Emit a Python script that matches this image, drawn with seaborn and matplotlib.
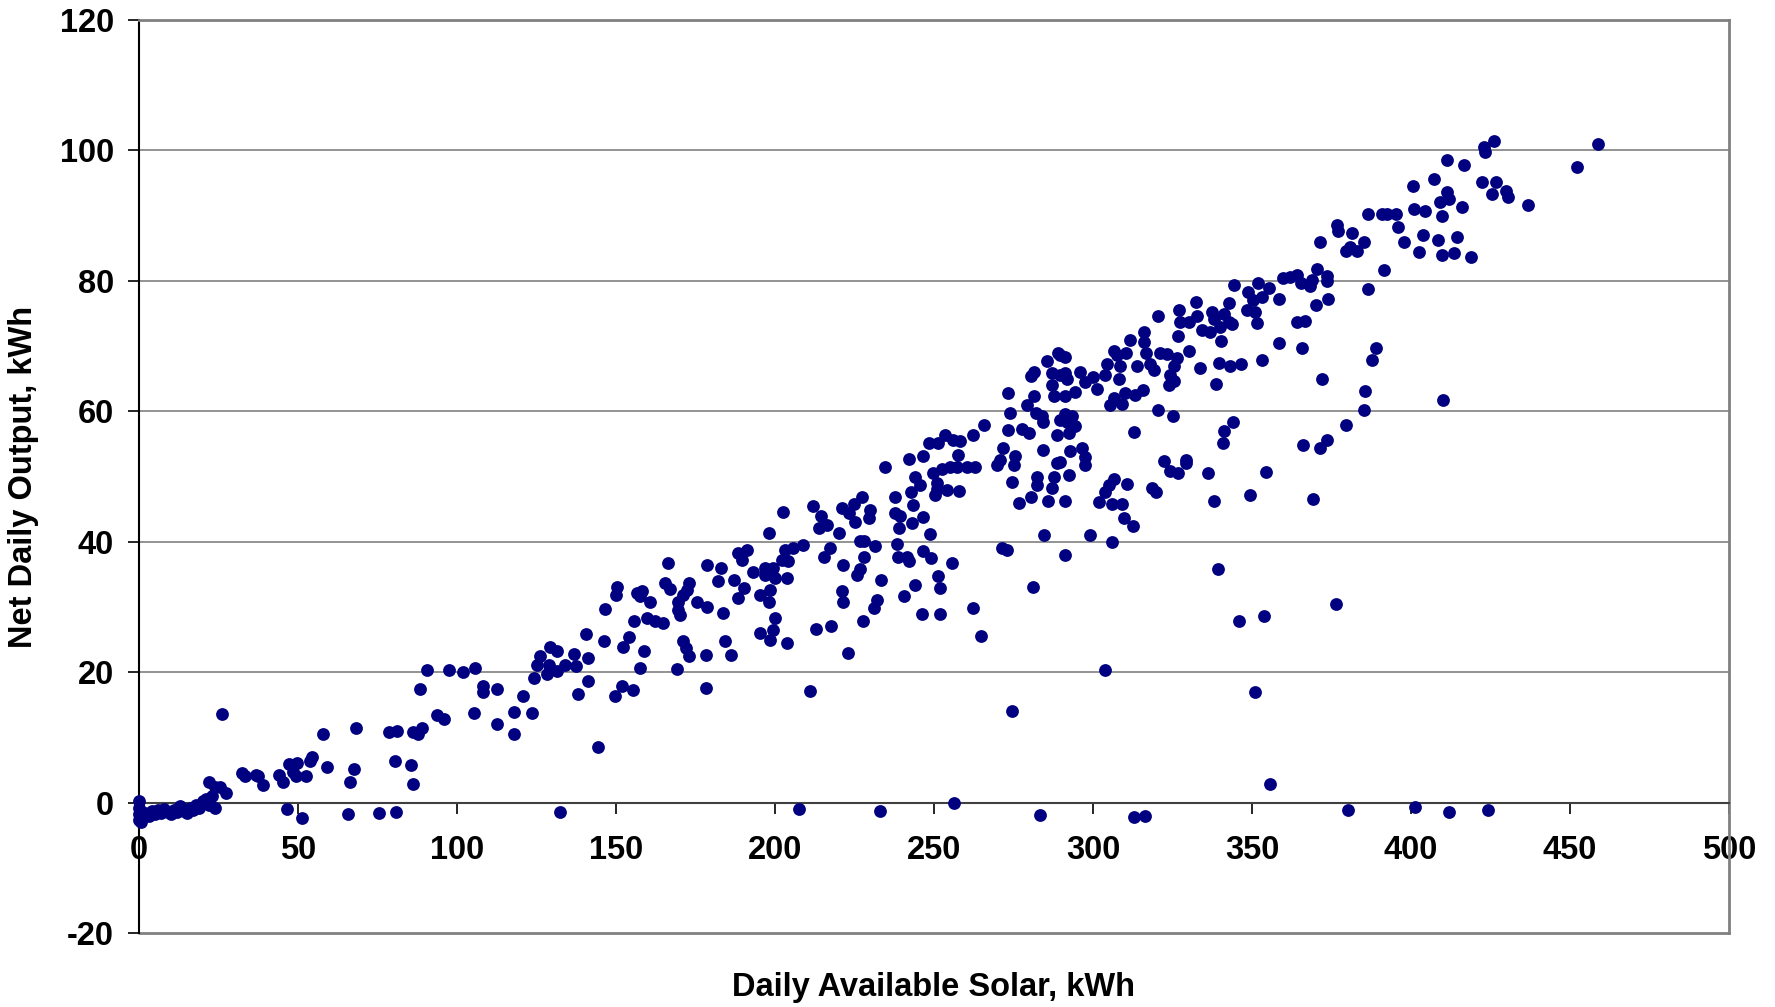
import matplotlib
matplotlib.use("Agg")
import matplotlib.pyplot as plt
import seaborn as sns
import pandas as pd

# Daily available solar (kWh) vs net daily output (kWh)
solar_near_zero = [0, 0, 0, 0, 0.5, 1, 2, 3, 4, 5, 6, 7, 8, 9, 10, 11, 12, 13, 14, 15,
                   16, 17, 18, 19, 20, 21, 22, 22, 23, 24, 24, 25.5, 26, 27.4]
output_near_zero = [0.3, -0.8, -1.8, -2.6, -3.0, -2.2, -1.6, -2.0, -1.3, -1.8, -1.2, -1.6, -1.0, -1.4,
                    -1.8, -1.1, -1.5, -0.6, -1.3, -1.6, -0.9, -1.2, -0.4, -0.8, 0.2, 0.6, -0.3, 3.1,
                    1.0, 2.4, -0.9, 2.4, 13.6, 1.4]

solar_low = [32.3, 33.4, 36.8, 37.5, 39.1, 44, 45.4, 47.3, 49.6, 48.5, 49.4, 52.5, 54.3, 53.8, 58, 59,
             46.5, 51.3, 65.8, 66.4, 67.6, 68.2, 75.4, 78.7, 81, 80.5, 80.9, 85.5, 86.3, 86.3, 88.9,
             87.8, 88.3, 90.5, 93.6, 96, 97.5]
output_low = [4.5, 4.1, 4.2, 4.0, 2.7, 4.2, 3.1, 5.9, 6.0, 4.7, 4.0, 4.0, 7.0, 6.3, 10.5, 5.5,
              -1.0, -2.3, -1.7, 3.2, 5.1, 11.4, -1.6, 10.8, 11.0, 6.3, -1.4, 5.7, 2.9, 10.8, 11.4,
              10.5, 17.4, 20.3, 13.4, 12.8, 20.3]

solar_mid1 = [101.8, 105.7, 105.2, 108.3, 108.3, 112.7, 112.5, 118, 118, 120.9, 123.5, 124.3, 125.1,
              126.1, 128.8, 128.2, 129.3, 131.4, 131.4, 134, 136.9, 137.5, 141.3, 141.3, 138.2, 132.4,
              144.2, 140.6, 146.3, 146.6, 149.7, 151.8, 155.3, 150.3, 150.1, 154.2, 152.3, 155.8,
              156.6, 158.1, 157.6, 158.9, 157.4, 159.7, 160.7, 162.3, 164.9, 165.5, 166.5, 167,
              169.1, 169.6, 169.6, 170.2, 171.2, 171.2, 172.1, 172.3, 172.8, 173.1, 175.4, 178.2,
              178.4, 178.6, 178.6, 182.2, 183, 183.6, 184.3, 186.2, 187, 188.5, 188.5, 189.6, 190.1,
              191.2, 193.2, 195.3, 196.9, 196.9, 198, 198]
output_mid1 = [20.0, 20.7, 13.8, 17.8, 17.0, 17.4, 12.0, 13.9, 10.5, 16.3, 13.8, 19.1, 21.1,
               22.4, 21.1, 19.7, 23.8, 23.2, 20.2, 21.1, 22.8, 21.0, 22.1, 18.6, 16.7, -1.5,
               8.5, 25.8, 24.8, 29.7, 16.4, 17.8, 17.2, 33.1, 31.8, 25.4, 23.8, 27.8,
               32.2, 32.4, 31.6, 23.3, 20.7, 28.3, 30.8, 27.9, 27.5, 33.6, 36.7, 32.7,
               20.5, 30.8, 29.6, 28.8, 31.9, 24.8, 23.7, 32.6, 33.7, 22.5, 30.7, 22.7,
               17.6, 30.0, 36.5, 33.9, 36.0, 29.1, 24.8, 22.6, 34.2, 38.3, 31.3, 37.2, 32.9,
               38.8, 35.4, 31.9, 36.0, 34.9, 30.8, 41.4]

solar_mid2 = [199.5, 200, 203.7, 202.1, 204.2, 203.2, 205.8, 208.7, 202.6, 198.4, 200, 199.5, 198.4,
              195.3, 203.7, 212.1, 214.4, 213.7, 216.3, 220, 221, 223.4, 225.2, 224.7, 227.3, 229.9,
              229.7, 226.8, 228, 231.5, 217.3, 215.5, 221.5, 228.1, 226.8, 225.7, 221, 221.5, 212.9,
              217.5, 223.1, 227.6, 231.2, 232.2, 233.3, 211, 207.4, 233.1, 256.4, 283.2, 234.5,
              237.7, 237.8, 239.3, 239.1, 238.3, 238.8, 241.4, 242, 240.6, 243, 243.3, 244.1, 245.6,
              242.7, 246.4, 246.4, 249.1, 243.9, 246.2, 251.9, 251.4, 251.9, 255.6, 248.8,
              242.2, 246.5, 248.3, 251.4, 253.5, 256.1, 258.2, 257.7, 262.4, 265.8, 249.8, 250.9,
              250.4, 252.5, 255.1, 257.2, 260.3, 262.9, 254, 258, 250.9,
              262.4, 264.7, 274.5, 271.5, 272.9, 281.1, 284.7,
              269.8, 270.8, 271.6, 275.5, 275, 274.5, 273.4, 273.9, 273.4, 277.6, 280, 279.2, 281.3,
              280.4, 281.5, 276.6, 280.4, 286, 282.3, 282.3, 287, 287.8, 288.6, 284.2, 288.6, 289.7,
              284.4, 283.9, 282.1, 285.5, 288.9, 287, 289.7, 287, 287.6]
output_mid2 = [35.9, 34.4, 34.4, 37.2, 37.0, 38.8, 39.0, 39.5, 44.6, 32.6, 28.3, 26.5, 25.0,
               26.0, 24.4, 45.4, 44.0, 42.1, 42.6, 41.3, 45.2, 44.4, 43.0, 45.8, 46.8, 44.9,
               43.6, 40.1, 40.1, 39.3, 39.0, 37.7, 36.5, 37.6, 35.8, 34.9, 32.4, 30.8, 26.6,
               27.0, 23.0, 27.9, 29.8, 31.0, 34.2, 17.1, -1.0, -1.3, -0.1, -1.9, 51.4,
               46.9, 44.4, 43.9, 42.1, 39.7, 37.6, 37.6, 37.0, 31.6, 42.9, 45.7, 50.0, 48.7,
               47.6, 43.8, 38.6, 37.5, 33.4, 28.9, 28.9, 34.8, 32.9, 36.8, 41.2,
               52.7, 53.2, 55.2, 55.2, 56.3, 55.6, 55.4, 53.3, 56.3, 57.9, 50.5, 49.0,
               47.2, 51.1, 51.5, 51.5, 51.4, 51.5, 48.0, 47.8, 48.1,
               29.9, 25.5, 14.0, 39.0, 38.7, 33.0, 41.1,
               51.8, 52.6, 54.4, 53.2, 51.7, 49.1, 57.2, 59.7, 62.8, 57.3, 56.6, 61.0, 62.4,
               65.4, 66.0, 46.0, 46.8, 46.2, 50.0, 48.7, 48.2, 50.0, 52.1, 54.1, 56.3, 58.7,
               58.3, 59.3, 59.7, 67.7, 68.9, 65.9, 65.6, 64.1, 62.3]

solar_high1 = [371.5, 379.7, 383, 385.1, 380.9, 391.4, 386.4, 370.4, 373.6, 373.6, 368.9, 365.4, 368.3,
               361.8, 359.7, 364.2, 373.9, 370.2, 364.2, 366.6, 365.7, 372.1, 358.4, 358.6, 351.9,
               355.2, 348.7, 353.1, 350.3, 348.4, 351, 351.6, 344.4, 342.9, 341.1, 343.7, 339.8,
               342.7, 337.4, 338.1, 340.3, 336.9, 334.3, 332.5, 332.7, 330.1, 326.9, 327.5, 326.6,
               330.1, 333.7, 339.5, 343, 346.6, 353.3, 338.8, 320.3,
               316.1, 316.1, 316.8, 311.7, 310.5, 306.7, 307.5, 304.4, 308.6, 313.8, 318, 321.2,
               323.3, 326.4, 325.4, 324.3, 325.4, 323.8, 319.1, 296, 300, 303.9, 301.2, 297.6, 294.4,
               291.3, 291.3, 291.8, 289.7, 291.3, 313.3, 315.7, 310.1, 306.5, 309.1, 305.2, 308.1]
output_high1 = [86.0, 84.6, 84.6, 86.0, 85.2, 81.7, 78.8, 81.8, 80.8, 80.0, 80.2, 79.6, 79.2,
                80.6, 80.5, 80.9, 77.2, 76.3, 73.7, 73.9, 69.7, 65.0, 70.5, 77.2, 79.7,
                78.9, 78.3, 77.5, 77.1, 75.5, 75.3, 73.6, 79.4, 76.6, 74.9, 73.4, 72.9,
                73.7, 75.2, 74.1, 70.8, 72.1, 72.5, 76.8, 74.6, 73.7, 75.6, 73.7, 71.6,
                69.2, 66.6, 67.4, 66.9, 67.2, 67.9, 64.2, 74.6,
                72.2, 70.6, 69.0, 70.9, 69.0, 69.3, 68.7, 67.2, 66.9, 66.9, 67.2, 69.0,
                68.8, 68.2, 66.9, 65.5, 64.7, 64.1, 66.4, 66.1, 65.3, 65.5, 63.4, 64.5, 63.0,
                62.4, 65.8, 64.9, 68.7, 68.4, 62.5, 63.2, 62.8, 62.0, 61.1, 61.0, 64.9]

solar_high2 = [291.3, 293.4, 294.4, 291.8, 292.3, 292.8, 296.5, 297.6, 297.6, 289.7, 292.3, 291.3,
               299.1, 291.3, 313, 320.3, 325.1, 301.8, 304.9, 306.5, 303.9, 310.7, 306, 309.1, 309.6,
               312.6, 306, 318.5, 319.9, 322.2, 324.3, 326.6, 329.3, 329.3, 336.2, 337.9, 339.2,
               303.9, 340.8, 341.1, 344, 345.9, 353.9, 349.3, 354.3, 351, 355.6, 365.9, 369.1, 371.3,
               373.6, 376.5, 379.7, 385.1, 385.6, 387.7, 389.1, 313, 316.4, 380.1,
               376.8, 377, 381.5]
output_high2 = [59.6, 59.3, 57.8, 58.4, 56.7, 53.9, 54.3, 53.0, 51.7, 52.3, 50.2, 46.3,
                41.1, 37.9, 56.9, 60.2, 59.3, 46.1, 48.7, 49.6, 47.6, 48.9, 45.8, 45.8, 43.6,
                42.4, 39.9, 48.2, 47.6, 52.4, 50.9, 50.5, 52.6, 52.0, 50.6, 46.2, 35.8,
                20.4, 55.2, 57.0, 58.3, 27.9, 28.6, 47.2, 50.7, 16.9, 2.8, 54.9, 46.5, 54.3,
                55.6, 30.4, 57.9, 60.2, 63.1, 67.9, 69.7, -2.2, -2.1, -1.1,
                88.5, 87.6, 87.3]

solar_top = [426.1, 423, 423.3, 458.8, 452.2, 411.2, 416.8, 407.3, 400.6, 422.4, 426.7, 425.6, 429.9,
             430.4, 436.8, 411.2, 412, 409.1, 416, 409.9, 404.3, 401.1, 414.4, 408.6, 403.8, 402.4,
             409.6, 413.4, 418.9, 397.7, 395.8, 395.3, 392.6, 391, 386.4, 410.2, 401.3, 411.8, 424.1]
output_top = [101.4, 100.5, 99.7, 101.0, 97.5, 98.5, 97.8, 95.6, 94.5, 95.2, 95.2, 93.3, 93.8,
              92.8, 91.7, 93.6, 92.6, 92.1, 91.4, 89.9, 90.7, 91.0, 86.8, 86.3, 87.1, 84.4,
              84.0, 84.2, 83.7, 85.9, 88.2, 90.3, 90.3, 90.3, 90.2, 61.8, -0.7, -1.4, -1.1]

x_ticks = [0, 50, 100, 150, 200, 250, 300, 350, 400, 450, 500]
y_ticks = [-20, 0, 20, 40, 60, 80, 100, 120]
grid_levels = [20, 40, 60, 80, 100]

solar = (solar_near_zero + solar_low + solar_mid1 + solar_mid2
         + solar_high1 + solar_high2 + solar_top)
output = (output_near_zero + output_low + output_mid1 + output_mid2
          + output_high1 + output_high2 + output_top)
df = pd.DataFrame({"solar": solar, "output": output})

sns.set_style("white")
plt.rcParams['font.family'] = ['Liberation Sans', 'DejaVu Sans']
plt.rcParams['font.weight'] = 'bold'
plt.rcParams['text.color'] = 'black'
plt.rcParams['axes.labelcolor'] = 'black'
plt.rcParams['xtick.color'] = 'black'
plt.rcParams['ytick.color'] = 'black'

fs = 23.5

fig = plt.figure(figsize=(17.75, 10.07), dpi=100)
ax = fig.add_axes([139 / 1775, 1 - 933 / 1007, 1590 / 1775, 913 / 1007])

for lvl in grid_levels:
    ax.axhline(lvl, color="#808080", lw=1.2, zorder=1)
ax.axhline(-20, color="#808080", lw=2, zorder=1, clip_on=False)

sns.scatterplot(data=df, x="solar", y="output", ax=ax, color="#000080",
                s=85, linewidth=0, zorder=3, clip_on=False)

# x axis crosses at y = 0, like the original spreadsheet chart
ax.spines["bottom"].set_position(("data", 0))
ax.spines["bottom"].set_color("#404040")
ax.spines["bottom"].set_linewidth(1.5)
ax.spines["left"].set_color("black")
ax.spines["left"].set_linewidth(1.5)
for side in ["top", "right"]:
    ax.spines[side].set_color("#808080")
    ax.spines[side].set_linewidth(2)

ax.set_xlim(0, 500)
ax.set_ylim(-20, 120)
ax.set_xticks(x_ticks)
ax.set_yticks(y_ticks)
ax.set_xticklabels([str(t) for t in x_ticks])
ax.set_yticklabels([str(t) for t in y_ticks])

ax.tick_params(axis="x", direction="out", length=8, width=1.2, pad=15,
               labelsize=fs, colors="black", bottom=True)
ax.tick_params(axis="y", direction="out", length=8, width=1.2, pad=10,
               labelsize=fs, colors="black", left=True)
for lab in ax.get_xticklabels() + ax.get_yticklabels():
    lab.set_fontweight("bold")

ax.set_xlabel("Daily Available Solar, kWh", fontsize=fs, fontweight="bold", color="black")
ax.set_ylabel("Net Daily Output, kWh", fontsize=fs, fontweight="bold", color="black")
ax.xaxis.set_label_coords(0.5, -0.043)
ax.yaxis.set_label_coords(-0.063, 0.5)

fig.savefig("out.png", dpi=100, facecolor="white")
